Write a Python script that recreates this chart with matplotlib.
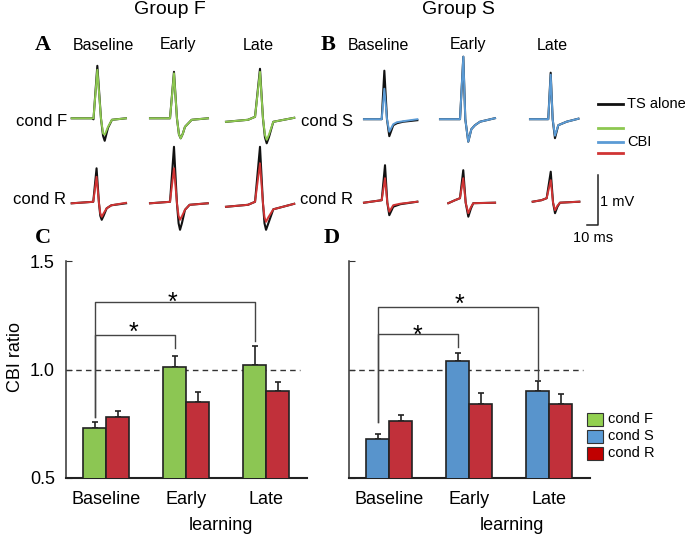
import matplotlib
matplotlib.use('Agg')
import matplotlib.pyplot as plt
from matplotlib.patches import Rectangle

plt.rcParams['font.family'] = ['Liberation Sans', 'DejaVu Sans']

# ---- data: MEP traces (time in ms, amplitude in mV) ----
# group F, cond F row: Baseline, Early, Late
F_condF_t = [[0, 18.5, 19.8, 23.3, 26.6, 28.5, 30.0, 33.0, 36.6, 49.3],
             [0, 18.2, 21.8, 24.5, 26.3, 27.9, 29.8, 31.8, 37.9, 52.7],
             [0, 20.0, 26.4, 30.9, 33.6, 35.4, 37.0, 39.0, 43.0, 62.0]]
F_condF_ts = [[0, 0, -0.02, 1.05, 0, -0.35, -0.45, -0.19, -0.03, 0],
              [0, 0, 0.93, 0, -0.32, -0.40, -0.31, -0.17, -0.03, 0],
              [-0.07, -0.03, 0.03, 0.99, 0, -0.38, -0.50, -0.38, -0.07, 0.01]]
F_condF_cbi = [[0, 0, 0.0, 0.97, 0, -0.30, -0.33, -0.17, -0.03, 0],
               [0, 0, 0.90, 0, -0.32, -0.40, -0.31, -0.17, -0.03, 0],
               [-0.07, -0.03, 0.03, 0.93, 0, -0.33, -0.43, -0.33, -0.07, 0.01]]
# group F, cond R row
F_condR_t = [[0, 19.6, 22.6, 24.8, 26.0, 27.3, 29.0, 31.8, 36.0, 49.4],
             [0, 18.2, 21.8, 24.5, 26.0, 27.3, 29.0, 31.8, 36.0, 52.5],
             [0, 20.0, 26.4, 30.9, 33.6, 35.0, 36.4, 38.5, 43.0, 62.0]]
F_condR_ts = [[0, 0.03, 0.70, 0, -0.25, -0.33, -0.25, -0.10, -0.04, 0],
              [0, 0.03, 1.13, 0, -0.40, -0.53, -0.40, -0.13, -0.03, 0],
              [-0.07, -0.03, 0.03, 1.13, 0, -0.40, -0.53, -0.40, -0.12, -0.01]]
F_condR_cbi = [[0, 0.03, 0.53, 0, -0.20, -0.27, -0.20, -0.10, -0.04, 0.01],
               [0, 0.03, 0.70, 0, -0.25, -0.33, -0.26, -0.13, -0.03, 0],
               [-0.07, -0.03, 0.03, 0.80, 0, -0.28, -0.37, -0.28, -0.12, -0.01]]
# group S, cond S row
S_condS_t = [[0, 16.1, 18.5, 20.9, 23.0, 26.6, 30.0, 35.7, 48.5],
             [0, 18.2, 21.2, 23.0, 25.7, 28.5, 31.8, 36.4, 50.0],
             [0, 16.6, 18.8, 20.6, 22.7, 25.7, 33.3, 44.0]]
S_condS_ts = [[0, 0, 0.97, 0, -0.34, -0.12, -0.08, -0.05, -0.02],
              [0, 0, 1.25, 0, -0.45, -0.20, -0.12, -0.05, 0.02],
              [0, 0, 0.93, 0, -0.38, -0.12, -0.05, 0.01]]
S_condS_cbi = [[0, 0, 0.61, 0, -0.25, -0.10, -0.06, -0.04, 0],
               [0, 0, 1.25, 0, -0.45, -0.20, -0.12, -0.05, 0.02],
               [0, 0, 0.89, 0, -0.33, -0.12, -0.05, 0.01]]
# group S, cond R row
S_condR_t = [[0, 16.1, 19.1, 21.2, 23.0, 26.6, 33.0, 48.5],
             [0, 6.1, 10.6, 13.6, 15.8, 18.2, 20.5, 22.7, 42.5],
             [0, 8.0, 12.7, 16.4, 18.5, 20.3, 22.5, 24.8, 42.4]]
S_condR_ts = [[0, 0.05, 0.75, 0, -0.25, -0.08, -0.03, 0.02],
              [-0.01, 0.05, 0.09, 0.65, 0, -0.28, -0.12, -0.01, 0.0],
              [0.02, 0.05, 0.09, 0.62, 0, -0.21, -0.08, 0, 0.02]]
S_condR_cbi = [[0, 0.05, 0.49, 0, -0.18, -0.05, -0.02, 0.02],
               [-0.01, 0.05, 0.09, 0.49, 0, -0.21, -0.09, -0.01, 0.0],
               [0.02, 0.05, 0.09, 0.45, 0, -0.15, -0.06, 0, 0.02]]

# ---- data: CBI ratio bars ----
phases = ['Baseline', 'Early', 'Late']
C_condF = [0.731, 1.01, 1.02]
C_condF_err = [0.025, 0.05, 0.088]
C_condR = [0.782, 0.852, 0.90]
C_condR_err = [0.028, 0.043, 0.041]
D_condS = [0.679, 1.04, 0.90]
D_condS_err = [0.026, 0.035, 0.049]
D_condR = [0.762, 0.841, 0.841]
D_condR_err = [0.028, 0.049, 0.045]

GREEN, BLUE, RED = '#8cc653', '#5894cc', '#c1303a'
TR_GREEN, TR_BLUE, TR_RED = '#8dc850', '#5b9bd5', '#d03434'

W, H = 685, 535
PX_MS = 1.1    # 10 ms = 11 px
PX_MV = 50.0   # 1 mV = 50 px


def fig_rect(x0, y0, w, h):
    # pixel box (top-left origin) -> figure fraction
    return [x0 / W, 1 - (y0 + h) / H, w / W, h / H]


def trace_axes(fig, x0, base_y, width_ms, up=1.4, down=0.8):
    ax = fig.add_axes(fig_rect(x0, base_y - up * PX_MV, width_ms * PX_MS, (up + down) * PX_MV))
    ax.set_xlim(0, width_ms)
    ax.set_ylim(-down, up)
    ax.axis('off')
    ax.patch.set_alpha(0)
    return ax


def draw_row(fig, starts, base_y, ts_t, ts_v, cbi_v, col):
    for x0, t, v1, v2 in zip(starts, ts_t, ts_v, cbi_v):
        ax = trace_axes(fig, x0, base_y, t[-1])
        ax.plot(t, v1, color='#111111', lw=1.5, clip_on=False, solid_joinstyle='round')
        ax.plot(t, v2, color=col, lw=1.4, clip_on=False, solid_joinstyle='round')


def bar_panel(fig, x0, v1, e1, v2, e2, col, labels_on):
    ax = fig.add_axes(fig_rect(x0, 261, 241, 217))
    ax.set_xlim(-0.5, 2.5125)
    ax.set_ylim(0.5, 1.5)
    w = 0.2875
    x = range(len(phases))
    xa = [i - w / 2 for i in x]
    xb = [i + w / 2 for i in x]
    ax.bar(xa, v1, w, color=col, edgecolor='#222222', lw=1.2, zorder=3)
    ax.bar(xb, v2, w, color=RED, edgecolor='#222222', lw=1.2, zorder=3)
    ax.errorbar(xa, v1, yerr=[[0] * 3, e1], fmt='none', ecolor='#222222',
                elinewidth=1.2, capsize=2.2, capthick=1.2, zorder=2)
    ax.errorbar(xb, v2, yerr=[[0] * 3, e2], fmt='none', ecolor='#222222',
                elinewidth=1.2, capsize=2.2, capthick=1.2, zorder=2)
    ax.axhline(1.0, xmin=0, xmax=0.97, ls=(0, (4, 3)), color='#333333', lw=1, zorder=1)
    for s in ['top', 'right']:
        ax.spines[s].set_visible(False)
    ax.spines['left'].set_color('#333333')
    ax.spines['left'].set_linewidth(1.1)
    ax.spines['bottom'].set_color('#222222')
    ax.spines['bottom'].set_linewidth(1.5)
    ax.set_yticks([0.5, 1.0, 1.5])
    ax.set_yticklabels(['0.5', '1.0', '1.5'], fontsize=13)
    ax.tick_params(axis='y', direction='in', length=4, pad=8, labelleft=labels_on, color='#333333')
    ax.set_xticks(list(x))
    ax.set_xticklabels(phases, fontsize=13)
    ax.tick_params(axis='x', length=0, pad=9)
    ax.patch.set_alpha(0)
    return ax, xa


def bracket(ax, xl, xr, y_top, yl_bot, yr_bot, star_x, star_y):
    ax.plot([xl, xl, xr, xr], [yl_bot, y_top, y_top, yr_bot], color='#444444', lw=1, clip_on=False)
    ax.text(star_x, star_y, '*', fontsize=18, ha='center', va='baseline')


fig = plt.figure(figsize=(6.85, 5.35), dpi=100)

ov = fig.add_axes([0, 0, 1, 1])
ov.set_xlim(0, W)
ov.set_ylim(H, 0)
ov.axis('off')

# traces
draw_row(fig, [71.7, 150, 226], 118.3, F_condF_t, F_condF_ts, F_condF_cbi, TR_GREEN)
draw_row(fig, [71.7, 150, 226], 203.3, F_condR_t, F_condR_ts, F_condR_cbi, TR_RED)
draw_row(fig, [364, 440, 530], 119.2, S_condS_t, S_condS_ts, S_condS_cbi, TR_BLUE)
draw_row(fig, [364, 448.3, 532.7], 202.7, S_condR_t, S_condR_ts, S_condR_cbi, TR_RED)

# scale bar (10 ms, 1 mV)
sb = trace_axes(fig, 587, 225, 12, up=1.2, down=0.2)
sb.plot([0, 10, 10], [0, 0, 1], color='#222222', lw=1.1, clip_on=False)

# bar panels
axC, xC = bar_panel(fig, 66, C_condF, C_condF_err, C_condR, C_condR_err, GREEN, True)
bracket(axC, xC[0], xC[2], 1.31, 0.78, 1.13, 0.825, 1.275)
bracket(axC, xC[0], xC[1], 1.16, 0.78, 1.10, 0.34, 1.135)

axD, xD = bar_panel(fig, 349, D_condS, D_condS_err, D_condR, D_condR_err, BLUE, False)
bracket(axD, xD[0], xD[2], 1.288, 0.76, 0.95, 0.875, 1.265)
bracket(axD, xD[0], xD[1], 1.165, 0.76, 1.105, 0.36, 1.125)

# text
ov.text(170, 10, 'Group F', fontsize=14, ha='center', va='center')
ov.text(458, 10, 'Group S', fontsize=14, ha='center', va='center')
for lab, x, y in [('A', 43, 45), ('B', 328, 45), ('C', 43, 238), ('D', 332, 238)]:
    ov.text(x, y, lab, fontsize=16, fontweight='bold', family='Liberation Serif',
            ha='center', va='center')
for lab, xa, xb in zip(phases, [103, 178, 258], [378, 468, 552]):
    ov.text(xa, 45, lab, fontsize=11.5, ha='center', va='center')
    ov.text(xb, 45, lab, fontsize=11.5, ha='center', va='center')
ov.text(67, 121, 'cond F', fontsize=12, ha='right', va='center')
ov.text(66, 200, 'cond R', fontsize=12, ha='right', va='center')
ov.text(353, 121, 'cond S', fontsize=12, ha='right', va='center')
ov.text(353, 200, 'cond R', fontsize=12, ha='right', va='center')

# trace legend
ov.plot([598, 623], [104, 104], color='#111111', lw=2)
ov.plot([598, 623], [128, 128], color=TR_GREEN, lw=2)
ov.plot([598, 623], [142, 142], color=TR_BLUE, lw=2)
ov.plot([598, 623], [153, 153], color=TR_RED, lw=2)
ov.text(627, 104, 'TS alone', fontsize=10.5, ha='left', va='center')
ov.text(627, 142, 'CBI', fontsize=10.5, ha='left', va='center')
ov.text(600, 202, '1 mV', fontsize=10.5, ha='left', va='center')
ov.text(593, 238, '10 ms', fontsize=10.5, ha='center', va='center')

ov.text(16, 357, 'CBI ratio', fontsize=13, rotation=90, ha='center', va='center')
ov.text(221, 525, 'learning', fontsize=13, ha='center', va='center')
ov.text(512, 525, 'learning', fontsize=13, ha='center', va='center')

# bar legend
for i, (lab, col) in enumerate([('cond F', '#92d050'), ('cond S', '#5b9bd5'), ('cond R', '#c00000')]):
    y = 419 + 17 * i
    ov.add_patch(Rectangle((587, y - 6.5), 16, 13, facecolor=col, edgecolor='#333333', lw=0.8))
    ov.text(608, y, lab, fontsize=10.5, ha='left', va='center')

fig.savefig('out.png', dpi=100)
